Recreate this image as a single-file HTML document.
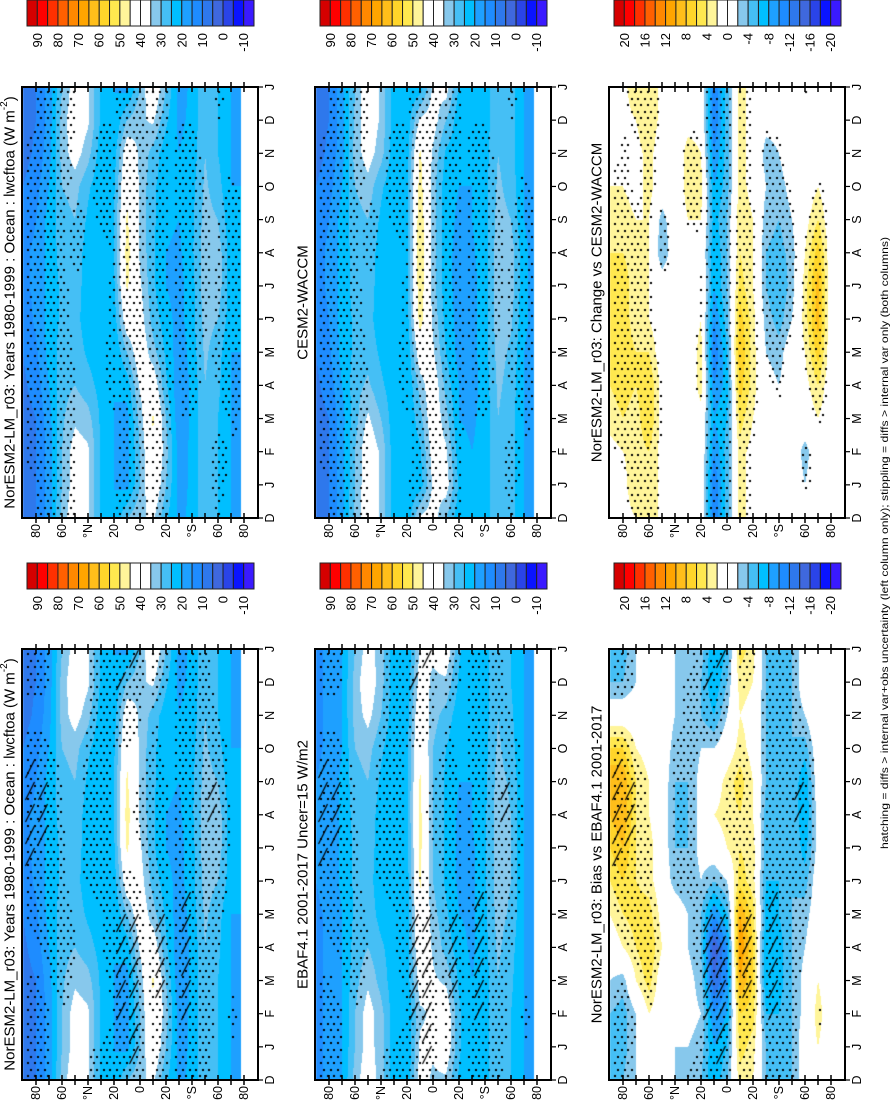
<!DOCTYPE html>
<html><head><meta charset="utf-8">
<style>
html,body{margin:0;padding:0;background:#fff;}
#wrap{position:relative;width:895px;height:1100px;overflow:hidden;font-family:"Liberation Sans",sans-serif;}
canvas{position:absolute;}
svg{position:absolute;left:0;top:0;}
</style></head>
<body>
<div id="wrap">
<canvas id="c0"></canvas>
<canvas id="c1"></canvas>
<canvas id="c2"></canvas>
<canvas id="c3"></canvas>
<canvas id="c4"></canvas>
<canvas id="c5"></canvas>
<svg id="ov" width="895" height="1100"></svg>
</div>
<script>
// latitude grid (deg) and months
const lats = [90,80,70,60,50,40,30,20,10,0,-10,-20,-30,-40,-50,-60,-70,-80];
const monthLabels = ["D","J","F","M","A","M","J","J","A","S","O","N","D","J"];
const latTickVals = [80,60,40,20,0,-20,-40,-60,-80];
const latTickLabels = ["80","60","°N","20","0","20","°S","60","80"];
const absCbLabels = ["90","80","70","60","50","40","30","20","10","0","-10"];
const diffCbLabels = ["20","16","12","8","4","0","-4","-8","-12","-16","-20"];
// rows = Jan..Dec, cols = lats
const noresmLw = [
[8,10,17,30,38,36,24,20,18,30,42,30,18,21,30,25,20,20],
[8,10,17,30,38,36,24,20,18,30,44,32,18,21,30,25,20,20],
[8,10,18,29,34,32,24,20,18,32,46,30,16,21,30,25,20,20],
[9,12,20,28,30,27,23,20,22,36,40,26,16,21,30,26,20,20],
[10,14,22,27,28,24,22,20,30,40,32,24,17,22,31,27,20,20],
[12,16,22,26,27,22,20,22,40,38,28,22,18,23,32,30,22,20],
[14,16,22,26,28,22,20,24,46,36,26,20,18,23,33,33,22,20],
[14,16,22,27,29,22,20,25,48,34,26,20,19,24,33,33,22,20],
[12,15,22,28,30,24,20,25,46,34,26,21,20,24,32,30,21,20],
[10,13,20,30,32,26,21,24,44,34,26,22,20,23,31,27,20,20],
[8,11,18,32,38,32,22,22,40,34,28,22,20,22,30,25,20,20],
[8,10,17,32,40,36,24,20,30,34,36,26,19,21,30,25,20,20]];
const cesmLw = [
[8,10,18,30,40,34,22,20,22,36,38,24,20,22,30,27,20,18],
[8,10,18,30,40,34,22,20,24,38,36,22,20,22,30,27,20,18],
[8,10,18,28,36,30,22,20,28,40,32,20,19,22,30,27,20,18],
[9,12,20,28,31,26,22,20,32,40,28,20,18,22,31,28,20,18],
[10,14,22,26,28,24,21,20,40,36,25,18,18,23,32,29,20,18],
[12,15,22,26,27,22,20,22,48,34,23,18,18,23,33,31,21,18],
[13,16,22,27,28,22,20,24,50,32,22,18,18,23,33,33,21,18],
[13,16,22,27,29,22,20,24,50,32,22,18,19,23,33,33,21,18],
[12,15,22,28,30,24,20,24,50,32,22,19,20,23,32,30,20,18],
[10,13,20,30,33,26,21,24,48,32,22,20,20,23,31,28,20,18],
[8,11,18,32,38,32,22,22,46,34,24,22,20,23,30,27,20,18],
[8,10,18,31,40,34,22,21,36,38,30,22,20,22,30,27,20,18]];
const ebafLw = [
[14,16,20,30,38,32,22,20,36,36,40,26,20,23,30,25,20,16],
[14,16,20,30,38,32,22,20,34,36,40,26,20,23,30,25,20,16],
[14,16,20,28,34,28,22,22,38,36,34,24,20,23,30,26,20,16],
[14,16,20,27,30,26,22,22,42,34,28,22,19,23,31,27,20,16],
[14,16,20,26,28,23,21,22,44,32,26,20,19,24,32,29,20,16],
[15,17,21,26,27,22,20,22,46,30,24,19,19,24,33,30,20,16],
[15,17,21,26,28,22,20,23,47,30,24,19,19,24,33,30,20,16],
[15,17,21,27,29,22,20,24,47,30,24,19,20,24,33,30,20,16],
[15,17,21,28,30,24,20,24,46,30,24,20,20,24,32,29,20,16],
[14,16,20,30,32,26,21,24,44,30,25,21,20,23,31,27,20,16],
[14,16,20,32,37,30,22,22,42,32,28,22,20,23,30,26,20,16],
[14,16,20,32,40,32,22,21,38,34,34,24,20,23,30,25,20,16]];
const changeLw = [
[0,1,4,4,1,0,0,1,-12,-5,3,1,0,-1,0,-2,0,0],
[1,2,3,4,1,0,0,1,-10,-5,3,1,0,-1,0,-3,0,0],
[3,4,3,6,1,0,0,1,-8,-6,5,2,-1,-1,1,0,2,0],
[4,5,4,6,1,0,0,3,-10,-7,7,3,-1,-2,0,1,4,0],
[4,5,4,4,0,0,0,3,-12,-6,8,3,-2,-3,0,2,7,0],
[5,5,3,2,0,0,0,2,-10,-5,7,3,-3,-5,-2,3,9,0],
[5,5,3,2,0,0,0,2,-8,-4,5,2,-4,-6,-3,3,9,0],
[4,4,3,2,-4,0,0,1,-8,-4,4,2,-4,-5,-3,2,7,0],
[3,3,2,2,-3,0,2,2,-7,-4,4,2,-3,-4,-2,1,4,0],
[2,2,1,3,0,0,3,3,-8,-5,3,1,-2,-3,-1,0,2,0],
[1,2,1,3,0,0,3,2,-10,-5,3,1,-3,-2,0,0,0,0],
[0,1,2,4,1,0,1,1,-12,-5,3,1,-1,-1,0,-1,0,0]];
const biasLw = [
[-4,-5,-2,0,0,-2,-2,-3,-8,-6,5,3,-4,-5,-4,0,2,0],
[-4,-5,-2,2,0,-1,-1,-2,-10,-8,6,5,-6,-6,-4,-1,3,0],
[-2,-3,2,5,0,0,-1,-3,-14,-10,10,6,-8,-7,-4,-1,2,0],
[0,2,4,6,2,0,-2,-4,-16,-10,12,6,-8,-7,-4,-2,1,0],
[2,4,5,5,1,0,-2,-4,-10,-6,10,5,-7,-6,-4,-3,0,0],
[4,6,4,3,0,-3,-4,-2,-4,-2,5,3,-6,-6,-4,-5,0,0],
[6,8,4,3,0,-4,-4,-1,0,2,4,3,-5,-6,-4,-7,-1,0],
[8,10,4,2,0,-4,-4,-1,2,3,4,2,-5,-5,-4,-8,-1,0],
[10,10,4,2,0,-4,-4,-1,0,3,5,2,-4,-5,-4,-8,0,0],
[6,6,2,1,0,-3,-4,-2,-2,0,3,1,-4,-5,-4,-5,0,0],
[0,0,0,0,0,-2,-3,-4,-6,-2,2,1,-4,-5,-4,-2,1,0],
[-4,-4,-2,0,0,-2,-3,-4,-8,-4,3,2,-4,-5,-4,0,2,0]];

const palette = ["#d50000","#ff0000","#ff3000","#ff6000","#ff8800","#ffa500","#ffbe1a","#ffd52a","#ffe84f","#fff59a","#ffffff","#ffffff","#87c8ec","#45bff5","#00bfff","#1ea0ff","#1e8cff","#2e78ec","#3f68de","#2a44e8","#0a14ff","#3a1aff"];

const PW = 236, PH = 431;
const colX = [22, 315, 609];
const rowY = [87, 649];
const cbY = [0, 563];
const panels = [
 {cv:"c0", col:0, row:0, field:noresmLw, kind:"abs", mask:changeLw, thr:1, hatch:false, title:"NorESM2-LM_r03: Years 1980-1999 : Ocean : lwcftoa (W m", sup:true},
 {cv:"c1", col:1, row:0, field:cesmLw, kind:"abs", mask:changeLw, thr:1, hatch:false, title:"CESM2-WACCM"},
 {cv:"c2", col:2, row:0, field:changeLw, kind:"diff", mask:changeLw, thr:1.5, hatch:false, title:"NorESM2-LM_r03: Change vs CESM2-WACCM"},
 {cv:"c3", col:0, row:1, field:noresmLw, kind:"abs", mask:biasLw, thr:2, hatch:true, title:"NorESM2-LM_r03: Years 1980-1999 : Ocean : lwcftoa (W m", sup:true},
 {cv:"c4", col:1, row:1, field:ebafLw, kind:"abs", mask:biasLw, thr:2, hatch:true, title:"EBAF4.1 2001-2017 Uncer=15 W/m2"},
 {cv:"c5", col:2, row:1, field:biasLw, kind:"diff", mask:biasLw, thr:2.5, hatch:true, title:"NorESM2-LM_r03: Bias vs EBAF4.1 2001-2017"}
];

// axis functions
function latToX(lat){ return 1 + (90 - lat) * 1.3; }
function xToLat(px){ return 90 - (px - 1) / 1.3; }
function tToY(t){ return PH - t * PH / 13; }
function yToT(py){ return (PH - py) * 13 / PH; }
function sample(g, t, lat){
  let m = t - 1; m = ((m % 12) + 12) % 12;
  const i0 = Math.floor(m), i1 = (i0 + 1) % 12, fm = m - i0;
  let j = (90 - lat) / 10; j = Math.max(0, Math.min(17, j));
  const j0 = Math.floor(j), j1 = Math.min(j0 + 1, 17), fj = j - j0;
  const a = g[i0][j0]*(1-fj) + g[i0][j1]*fj;
  const b = g[i1][j0]*(1-fj) + g[i1][j1]*fj;
  return a*(1-fm) + b*fm;
}
function levelIdx(v, kind){
  const k = kind === "abs" ? Math.floor((95 - v) / 5) : Math.floor((22 - v) / 2);
  return Math.max(0, Math.min(21, k));
}
function hex2rgb(h){ return [parseInt(h.substr(1,2),16),parseInt(h.substr(3,2),16),parseInt(h.substr(5,2),16)]; }
const palRGB = palette.map(hex2rgb);

panels.forEach(p => {
  const cv = document.getElementById(p.cv);
  const x0 = colX[p.col], y0 = rowY[p.row];
  cv.width = PW; cv.height = PH;
  cv.style.left = x0 + "px"; cv.style.top = y0 + "px";
  const ctx = cv.getContext("2d");
  const img = ctx.createImageData(PW, PH);
  for (let py = 0; py < PH; py++){
    const t = yToT(py + 0.5);
    for (let px = 0; px < PW; px++){
      const lat = xToLat(px + 0.5);
      let rgb = [255,255,255];
      if (lat >= -77.5 && lat <= 90) rgb = palRGB[levelIdx(sample(p.field, t, lat), p.kind)];
      const o = (py * PW + px) * 4;
      img.data[o] = rgb[0]; img.data[o+1] = rgb[1]; img.data[o+2] = rgb[2]; img.data[o+3] = 255;
    }
  }
  ctx.putImageData(img, 0, 0);
  // stippling (staggered grid)
  ctx.fillStyle = "#000";
  const sp = 6.6;
  let row = 0;
  for (let gy = 4; gy < PH - 2; gy += sp, row++){
    for (let gx = 5 + (row % 2) * sp / 2; gx < PW; gx += sp){
      const lat = xToLat(gx);
      if (lat < -77) continue;
      const v = sample(p.mask, yToT(gy), lat);
      if (Math.abs(v) >= p.thr) ctx.fillRect(Math.round(gx), Math.round(gy), 2, 2);
    }
  }
  // hatching
  if (p.hatch){
    ctx.strokeStyle = "#000"; ctx.lineWidth = 1.2;
    ctx.beginPath();
    for (let gy = 10; gy < PH - 8; gy += 22){
      for (let gx = 8; gx < PW; gx += 13){
        const lat = xToLat(gx);
        if (lat < -76) continue;
        const v = sample(p.mask, yToT(gy), lat);
        if (Math.abs(v) >= 6){ ctx.moveTo(gx - 4.5, gy + 9); ctx.lineTo(gx + 4.5, gy - 9); }
      }
    }
    ctx.stroke();
  }
});

// overlay SVG
const NS = "http://www.w3.org/2000/svg";
const ov = document.getElementById("ov");
function mk(tag, attrs){ const e = document.createElementNS(NS, tag); for (const k in attrs) e.setAttribute(k, attrs[k]); ov.appendChild(e); return e; }
function rtext(x, y, str, anchor, size, name){
  const e = mk("text", {transform:"translate("+x+","+y+") rotate(-90)", "text-anchor":anchor, "dominant-baseline":"central", "font-size":size, "font-family":"Liberation Sans, sans-serif", fill:"#000"});
  
  
  e.textContent = str;
  return e;
}

panels.forEach(p => {
  const x0 = colX[p.col], y0 = rowY[p.row];
  const fr = mk("rect", {x:x0, y:y0, width:PW, height:PH, fill:"none", stroke:"#000", "stroke-width":2});
  
  
  for (let lat = 80; lat >= -80; lat -= 10){
    const x = x0 + latToX(lat);
    const tk1 = mk("line", {x1:x, y1:y0-5, x2:x, y2:y0+5, stroke:"#000", "stroke-width":1.5});
    
    
    const tk2 = mk("line", {x1:x, y1:y0+PH-5, x2:x, y2:y0+PH+5, stroke:"#000", "stroke-width":1.5});
    
    
  }
  latTickVals.forEach((lat, i) => {
    rtext(x0 + latToX(lat), y0 + PH + 6, latTickLabels[i], "end", 12.5, "lat-tick-label");
  });
  monthLabels.forEach((m, i) => {
    const y = y0 + tToY(i);
    const tk = mk("line", {x1:x0+PW, y1:y, x2:x0+PW+5, y2:y, stroke:"#000", "stroke-width":1.2});
    
    
    rtext(x0 + PW + 12, y, m, "middle", 12.5, "month-label");
  });
  const tt = rtext(x0 - 12, y0 + PH/2, p.title, "middle", 15, "panel-title");
  if (p.sup){
    const s1 = document.createElementNS(NS, "tspan");
    
    
    s1.setAttribute("baseline-shift", "super"); s1.setAttribute("font-size", "10"); s1.textContent = "-2";
    tt.appendChild(s1);
    const s2 = document.createElementNS(NS, "tspan");
    
    
    s2.textContent = ")";
    tt.appendChild(s2);
  }
  const cbx = x0 + 5, cby = cbY[p.row], bw = 227 / 22;
  palette.forEach((c, i) => {
    const r = mk("rect", {x:cbx + i*bw, y:cby, width:bw, height:26, fill:c, stroke:"#222", "stroke-width":1});
    
    
  });
  const labs = p.kind === "abs" ? absCbLabels : diffCbLabels;
  labs.forEach((l, k) => {
    rtext(cbx + (2*k + 1) * bw, cby + 33, l, "end", 13, "colorbar-label");
  });
});

const fn = rtext(885, 543, "hatching = diffs > internal var+obs uncertainty (left column only); stippling = diffs > internal var only (both columns)", "middle", 10.5, "footnote");
fn.setAttribute("textLength", "612");
fn.setAttribute("lengthAdjust", "spacingAndGlyphs");
</script>
</body></html>
